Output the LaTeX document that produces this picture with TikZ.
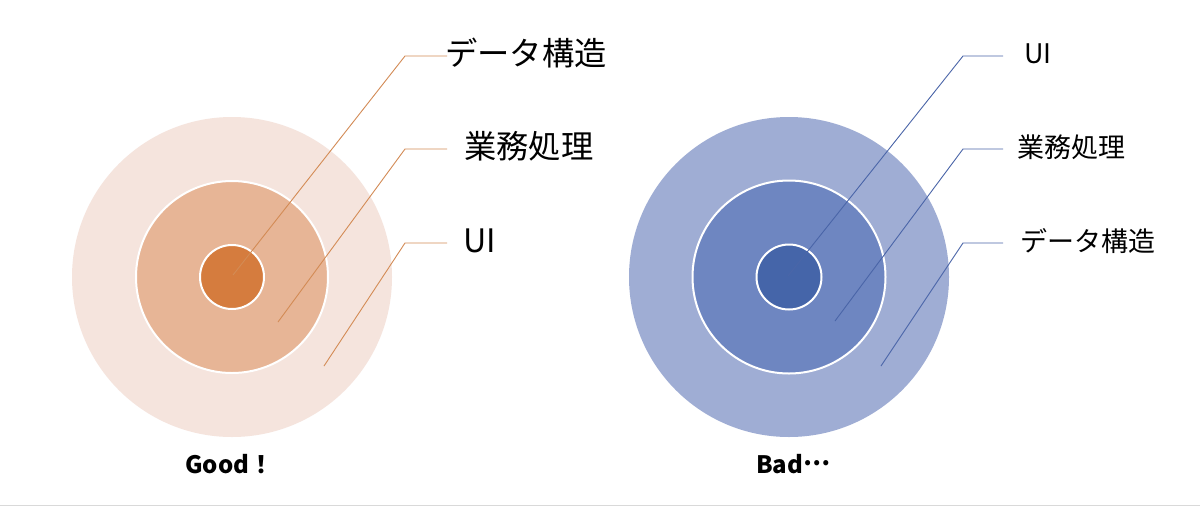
\documentclass[tikz,border=0pt]{standalone}
\usepackage{fontspec}
\setmainfont{Noto Sans CJK JP}
\definecolor{oOut}{HTML}{F5E4DD}
\definecolor{oMid}{HTML}{E7B596}
\definecolor{oIn}{HTML}{D57C3E}
\definecolor{oLine}{HTML}{D38B55}
\definecolor{bOut}{HTML}{9FADD4}
\definecolor{bMid}{HTML}{6E86C1}
\definecolor{bIn}{HTML}{4565A9}
\definecolor{bLine}{HTML}{4A65A8}
\begin{document}
\begin{tikzpicture}[x=1pt,y=-1pt,
  ring/.style={circle,inner sep=0pt,draw=white,line width=2pt,minimum size=#1},
  leadO/.style={draw=oLine,line width=0.9pt},
  leadB/.style={draw=bLine,line width=0.9pt},
  lblL/.style={anchor=base west,inner sep=0pt,font=\fontsize{32.3}{36}\selectfont},
  lblR/.style={anchor=base west,inner sep=0pt,font=\fontsize{27}{30}\selectfont},
  caption/.style={anchor=base west,inner sep=0pt,font=\fontsize{24}{28}\selectfont\bfseries}]
\useasboundingbox (0,0) rectangle (1200,507);
\fill[white] (0,0) rectangle (1200,507);
\draw[draw=black!15,line width=1.5pt] (0,505.5) -- (1200,505.5);

% left (Good)
\node[ring=320pt,fill=oOut,draw=none] (L3) at (232,277) {};
\node[ring=192pt,fill=oMid] (L2) at (232,277) {};
\node[ring=64pt,fill=oIn] (L1) at (232,277) {};
\coordinate (pL1) at (233,275);
\coordinate (pL2) at (278,322);
\coordinate (pL3) at (324,366);
\coordinate (eL1) at (405,56);
\coordinate (eL2) at (405,149);
\coordinate (eL3) at (405,243);
\coordinate (hL1) at (447,56);
\coordinate (hL2) at (447,149);
\coordinate (hL3) at (447,243);
\draw[leadO] (pL1) -- (eL1) -- (hL1);
\draw[leadO] (pL2) -- (eL2) -- (hL2);
\draw[leadO] (pL3) -- (eL3) -- (hL3);
\node[lblL] (tL1) at (445,65.5) {データ構造};
\node[lblL] (tL2) at (464,158.5) {業務処理};
\node[lblL] (tL3) at (463,252) {UI};
\node[caption] (good) at (185,473) {Good！};

% right (Bad)
\node[ring=320pt,fill=bOut,draw=none] (R3) at (789,277) {};
\node[ring=193pt,fill=bMid] (R2) at (789,277) {};
\node[ring=65pt,fill=bIn] (R1) at (789,277) {};
\coordinate (pR1) at (788,276);
\coordinate (pR2) at (835,321);
\coordinate (pR3) at (881,366);
\coordinate (eR1) at (963,56);
\coordinate (eR2) at (963,149);
\coordinate (eR3) at (963,243);
\coordinate (hR1) at (1003,56);
\coordinate (hR2) at (1003,149);
\coordinate (hR3) at (1003,243);
\draw[leadB] (pR1) -- (eR1) -- (hR1);
\draw[leadB] (pR2) -- (eR2) -- (hR2);
\draw[leadB] (pR3) -- (eR3) -- (hR3);
\node[lblR] (tR1) at (1024,63.5) {UI};
\node[lblR] (tR2) at (1017,157.5) {業務処理};
\node[lblR] (tR3) at (1020,251) {データ構造};
\node[caption] (bad) at (756,473) {Bad\raisebox{0.3em}{…}};
\end{tikzpicture}
\end{document}
